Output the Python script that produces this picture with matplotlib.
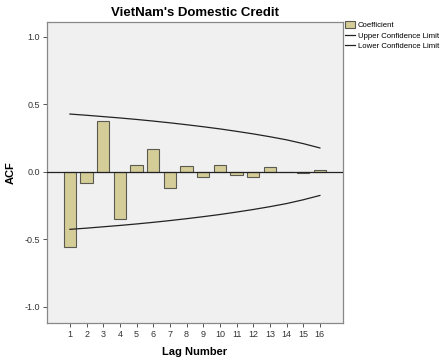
import matplotlib
matplotlib.use("Agg")
import matplotlib.pyplot as plt
from matplotlib.patches import Patch
from matplotlib.lines import Line2D

plt.rcParams["font.family"] = ["Liberation Sans", "DejaVu Sans"]

### data
lags = list(range(1, 17))
acf = [-0.560, -0.087, 0.375, -0.353, 0.049, 0.165, -0.121, 0.044,
       -0.039, 0.049, -0.025, -0.039, 0.032, -0.003, -0.012, 0.013]
upper_limit = [0.427, 0.418, 0.408, 0.398, 0.387, 0.375, 0.362, 0.348,
               0.333, 0.317, 0.299, 0.280, 0.259, 0.236, 0.208, 0.176]
lower_limit = [-v for v in upper_limit]
y_ticks = [-1.0, -0.5, 0.0, 0.5, 1.0]

bar_color = "#d5cd98"
edge_color = "#5a5a50"
bg_color = "#f0f0f0"

fig = plt.figure(figsize=(4.43, 3.58), dpi=100)
ax = fig.add_axes([0.106, 0.098, 0.668, 0.841])
ax.set_facecolor(bg_color)

ax.bar(lags, acf, 0.74, color=bar_color, edgecolor=edge_color, linewidth=0.8, zorder=2)
ax.plot(lags, upper_limit, color="#222222", linewidth=0.9, zorder=3)
ax.plot(lags, lower_limit, color="#222222", linewidth=0.9, zorder=3)
ax.axhline(0, color="#222222", linewidth=0.9, zorder=3)

ax.set_xlim(-0.38, 17.38)
ax.set_ylim(-1.12, 1.11)
ax.set_xticks(lags)
ax.set_xticklabels([str(l) for l in lags])
ax.set_yticks(y_ticks)
ax.set_yticklabels([f"{v:.1f}" for v in y_ticks])
ax.tick_params(labelsize=6.5, labelcolor="#333333", length=3, width=0.7,
               color="#555555", direction="out", pad=2)

for s in ax.spines.values():
    s.set_color("#888888")
    s.set_linewidth(0.9)

ax.set_title("VietNam's Domestic Credit", fontsize=9.5, fontweight="bold", pad=4)
ax.set_xlabel("Lag Number", fontsize=8, fontweight="bold", labelpad=6)
ax.set_ylabel("ACF", fontsize=8, fontweight="bold", labelpad=6)

handles = [
    Patch(facecolor=bar_color, edgecolor=edge_color, linewidth=0.8, label="Coefficient"),
    Line2D([0], [0], color="#222222", linewidth=0.9, label="Upper Confidence Limit"),
    Line2D([0], [0], color="#222222", linewidth=0.9, label="Lower Confidence Limit"),
]
fig.legend(handles=handles, loc="upper left", bbox_to_anchor=(0.778, 0.94),
           frameon=False, fontsize=5.6, handlelength=1.3, handleheight=0.9,
           handletextpad=0.4, labelspacing=0.3, borderaxespad=0, borderpad=0)

fig.savefig("out.png", dpi=100)
